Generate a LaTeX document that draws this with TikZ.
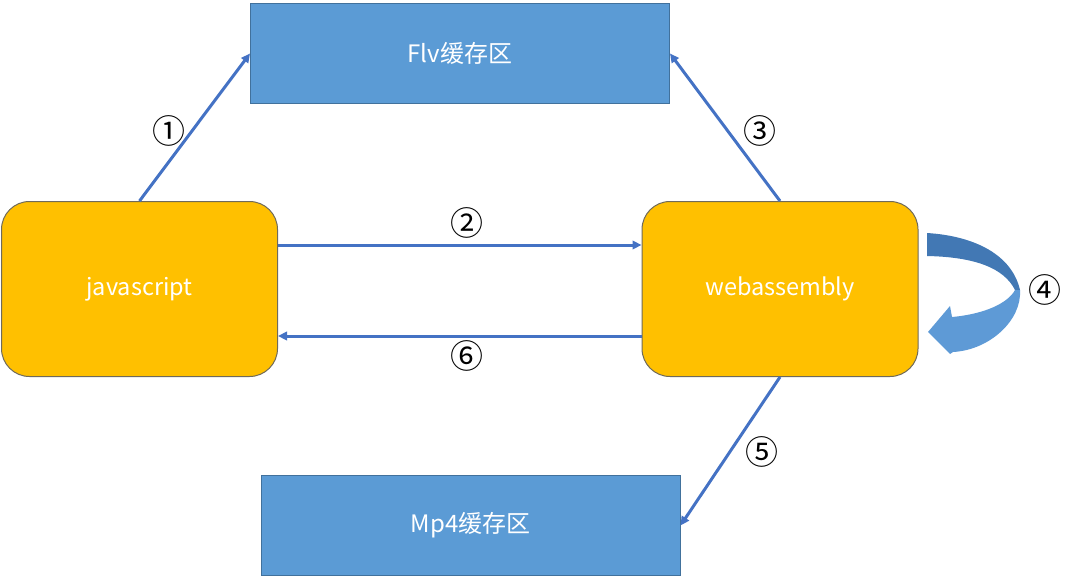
\documentclass[tikz,border=0pt]{standalone}
\usepackage{fontspec}
\setmainfont{Noto Sans CJK SC}
\usetikzlibrary{arrows.meta,calc}
\definecolor{boxblue}{HTML}{5B9BD5}
\definecolor{boxblueedge}{HTML}{41719C}
\definecolor{orangefill}{HTML}{FFC000}
\definecolor{orangeedge}{HTML}{6F6A5A}
\definecolor{linkblue}{HTML}{4472C4}
\definecolor{curvedark}{HTML}{4278B4}
\definecolor{curvelight}{HTML}{5E9AD6}
\tikzset{
  bufbox/.style={draw=boxblueedge, line width=1pt, fill=boxblue, minimum width=419pt, minimum height=100pt, inner sep=0pt, text=white, font=\fontsize{24}{26}\selectfont},
  procbox/.style={draw=orangeedge, line width=1pt, fill=orangefill, rounded corners=28pt, minimum width=276pt, minimum height=175pt, inner sep=0pt, text=white, font=\fontsize{23.5}{26}\selectfont},
  link/.style={draw=linkblue, line width=3pt, -{Triangle[length=9pt,width=8.5pt]}},
  steplabel/.style={font=\fontsize{33}{36}\selectfont, text=black, inner sep=0pt}
}
\begin{document}
\begin{tikzpicture}[x=1pt,y=-1pt]
\useasboundingbox (0,0) rectangle (1078,578);
\node[bufbox] (flv) at (460,53.5) {Flv缓存区};
\node[bufbox] (mp4) at (470.5,525.5) {Mp4缓存区};
\node[procbox] (js) at (139.5,289) {javascript};
\node[procbox] (wasm) at (780,289) {webassembly};
% connectors
\draw[link] (js.north) -- (flv.west);
\draw[link] (wasm.north) -- (flv.east);
\draw[link] ([yshift=44pt]js.east) -- ([yshift=44pt]wasm.west);
\draw[link] ([yshift=-47pt]wasm.west) -- ([yshift=-47pt]js.east);
\draw[link] (wasm.south) -- (mp4.east);
% curved self arrow
\fill[curvedark] (927,233) .. controls (975,236) and (1012,255) .. (1020,290)
  -- (1015,290) .. controls (1004,268) and (975,257) .. (927,256) -- cycle;
\fill[curvelight] (1020,290) .. controls (1022,320) and (990,350) .. (953,352)
  -- (950,354) -- (928,332) -- (950,306) -- (952,317)
  .. controls (985,314) and (1008,303) .. (1015,290) -- cycle;
% labels
\node[steplabel] (l1) at (169,131) {①};
\node[steplabel] (l2) at (467,223) {②};
\node[steplabel] (l3) at (760,131) {③};
\node[steplabel] (l4) at (1045,290) {④};
\node[steplabel] (l5) at (762,452) {⑤};
\node[steplabel] (l6) at (467,356) {⑥};
\end{tikzpicture}
\end{document}
